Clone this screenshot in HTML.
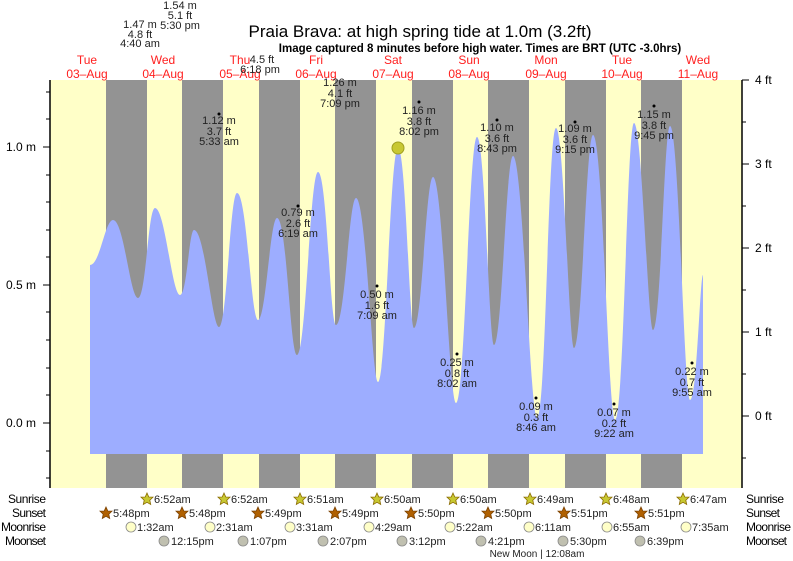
<!DOCTYPE html><html><head><meta charset="utf-8"><style>body{margin:0;background:#fff}svg{display:block;font-family:"Liberation Sans",sans-serif}</style></head><body>
<svg width="793" height="561" viewBox="0 0 793 561">
<rect x="50" y="80" width="692" height="408" fill="#ffffc8"/>
<g fill="#939393">
<rect x="106" y="80" width="41" height="408"/><rect x="182" y="80" width="41" height="408"/><rect x="259" y="80" width="41" height="408"/><rect x="335" y="80" width="41" height="408"/><rect x="412" y="80" width="41" height="408"/><rect x="488" y="80" width="41" height="408"/><rect x="565" y="80" width="41" height="408"/><rect x="641" y="80" width="41" height="408"/>
</g>
<path fill="#9dadff" d="M90,454 L90,265 C100,265 105,220 113,220 C124,220 130,298 138,298 C146,298 148,208 155,208 C165,208 172,295 180,295 C187,295 189,230 194,230 C205,230 212,327 219,327 C227,327 230,193 237,193 C247,193 251,320 258,320 C266,320 270,218 277,218 C287,218 290,355 297,355 C306,355 310,172 318,172 C327,172 330,325 336,325 C345,325 349,198 356,198 C366,198 372,382 378,382 C386,382 390,148 398,148 C406,148 409,328 414,328 C422,328 426,177 433,177 C443,177 449,403 456,403 C465,403 469,137 477,137 C485,137 489,345 494,345 C502,345 506,156 513,156 C523,156 530,418 537,418 C546,418 548,128 556,128 C564,128 569,348 574,348 C582,348 586,135 593,135 C603,135 608,420 615,420 C624,420 627,123 634,123 C642,123 648,330 653,330 C661,330 664,126 670,126 C679,126 684,400 690,400 C697,400 700,275 703,275 L703,454 Z"/>
<circle cx="398" cy="148" r="6" fill="#c8c832" stroke="#a0a020"/>
<g stroke="#000" stroke-width="1.5"><line x1="50" y1="80" x2="50" y2="488"/><line x1="742" y1="80" x2="742" y2="488"/></g>
<g stroke="#000" stroke-width="1"><line x1="43" y1="147" x2="50" y2="147"/><line x1="43" y1="285" x2="50" y2="285"/><line x1="43" y1="423" x2="50" y2="423"/>
<line x1="46" y1="119" x2="50" y2="119"/><line x1="46" y1="175" x2="50" y2="175"/><line x1="46" y1="202" x2="50" y2="202"/><line x1="46" y1="230" x2="50" y2="230"/><line x1="46" y1="257" x2="50" y2="257"/><line x1="46" y1="312" x2="50" y2="312"/><line x1="46" y1="340" x2="50" y2="340"/><line x1="46" y1="368" x2="50" y2="368"/><line x1="46" y1="395" x2="50" y2="395"/><line x1="46" y1="451" x2="50" y2="451"/><line x1="46" y1="478" x2="50" y2="478"/><line x1="46" y1="92" x2="50" y2="92"/>
<line x1="742" y1="80" x2="749" y2="80"/><line x1="742" y1="164" x2="749" y2="164"/><line x1="742" y1="248" x2="749" y2="248"/><line x1="742" y1="332" x2="749" y2="332"/><line x1="742" y1="416" x2="749" y2="416"/>
<line x1="742" y1="122" x2="746" y2="122"/><line x1="742" y1="206" x2="746" y2="206"/><line x1="742" y1="290" x2="746" y2="290"/><line x1="742" y1="374" x2="746" y2="374"/><line x1="742" y1="458" x2="746" y2="458"/></g>
<g font-size="12" fill="#000" text-anchor="end"><text x="36" y="151">1.0 m</text><text x="36" y="289">0.5 m</text><text x="36" y="427">0.0 m</text></g>
<g font-size="12" fill="#000"><text x="755" y="84">4 ft</text><text x="755" y="168">3 ft</text><text x="755" y="252">2 ft</text><text x="755" y="336">1 ft</text><text x="755" y="420">0 ft</text></g>
<text x="420" y="37" font-size="17" text-anchor="middle">Praia Brava: at high  spring tide at 1.0m (3.2ft)</text>
<text x="480" y="52" font-size="11.5" font-weight="bold" text-anchor="middle">Image captured 8 minutes before high water. Times are BRT (UTC -3.0hrs)</text>
<g font-size="12" fill="#ff2020" text-anchor="middle">
<text x="87" y="64">Tue</text><text x="87" y="78">03–Aug</text><text x="163" y="64">Wed</text><text x="163" y="78">04–Aug</text><text x="240" y="64">Thu</text><text x="240" y="78">05–Aug</text><text x="316" y="64">Fri</text><text x="316" y="78">06–Aug</text><text x="393" y="64">Sat</text><text x="393" y="78">07–Aug</text><text x="469" y="64">Sun</text><text x="469" y="78">08–Aug</text><text x="546" y="64">Mon</text><text x="546" y="78">09–Aug</text><text x="622" y="64">Tue</text><text x="622" y="78">10–Aug</text><text x="698" y="64">Wed</text><text x="698" y="78">11–Aug</text></g>
<g font-size="11" fill="#222" text-anchor="middle">
<text x="140" y="28">1.47 m</text><text x="140" y="38">4.8 ft</text><text x="140" y="47">4:40 am</text>
<text x="180" y="9">1.54 m</text><text x="180" y="19">5.1 ft</text><text x="180" y="29">5:30 pm</text>
<text x="262" y="63">4.5 ft</text><text x="260" y="73">6:18 pm</text>
<text x="340" y="86">1.26 m</text><text x="340" y="97">4.1 ft</text><text x="340" y="107">7:09 pm</text>
<text x="219" y="124">1.12 m</text><text x="219" y="135">3.7 ft</text><text x="219" y="145">5:33 am</text>
<text x="298" y="216">0.79 m</text><text x="298" y="227">2.6 ft</text><text x="298" y="237">6:19 am</text>
<text x="377" y="298">0.50 m</text><text x="377" y="309">1.6 ft</text><text x="377" y="319">7:09 am</text>
<text x="419" y="114">1.16 m</text><text x="419" y="125">3.8 ft</text><text x="419" y="135">8:02 pm</text>
<text x="457" y="366">0.25 m</text><text x="457" y="377">0.8 ft</text><text x="457" y="387">8:02 am</text>
<text x="497" y="131">1.10 m</text><text x="497" y="142">3.6 ft</text><text x="497" y="152">8:43 pm</text>
<text x="536" y="410">0.09 m</text><text x="536" y="421">0.3 ft</text><text x="536" y="431">8:46 am</text>
<text x="575" y="132">1.09 m</text><text x="575" y="143">3.6 ft</text><text x="575" y="153">9:15 pm</text>
<text x="614" y="416">0.07 m</text><text x="614" y="427">0.2 ft</text><text x="614" y="437">9:22 am</text>
<text x="654" y="118">1.15 m</text><text x="654" y="129">3.8 ft</text><text x="654" y="139">9:45 pm</text>
<text x="692" y="375">0.22 m</text><text x="692" y="386">0.7 ft</text><text x="692" y="396">9:55 am</text></g>
<g fill="#000"><circle cx="219" cy="114" r="1.5"/><circle cx="298" cy="206" r="1.5"/><circle cx="377" cy="286" r="1.5"/><circle cx="419" cy="102" r="1.5"/><circle cx="457" cy="354" r="1.5"/><circle cx="497" cy="120" r="1.5"/><circle cx="536" cy="398" r="1.5"/><circle cx="575" cy="122" r="1.5"/><circle cx="614" cy="404" r="1.5"/><circle cx="654" cy="106" r="1.5"/><circle cx="692" cy="363" r="1.5"/></g>
<g font-size="12" fill="#000"><text x="46" y="503" text-anchor="end" textLength="38">Sunrise</text><text x="46" y="517" text-anchor="end" textLength="34">Sunset</text><text x="46" y="531" text-anchor="end" textLength="45">Moonrise</text><text x="46" y="545" text-anchor="end" textLength="41">Moonset</text>
<text x="746" y="503" textLength="38">Sunrise</text><text x="746" y="517" textLength="34">Sunset</text><text x="746" y="531" textLength="45">Moonrise</text><text x="746" y="545" textLength="41">Moonset</text></g>
<defs><polygon id="st" points="0,-6 1.8,-2 6,-1.9 2.8,1.2 3.7,5.5 0,3.3 -3.7,5.5 -2.8,1.2 -6,-1.9 -1.8,-2"/></defs>
<g font-size="11" fill="#222">
<g fill="#c8c832" stroke="#8a6a00" stroke-width="0.8"><use href="#st" x="147" y="499"/><use href="#st" x="224" y="499"/><use href="#st" x="300" y="499"/><use href="#st" x="377" y="499"/><use href="#st" x="453" y="499"/><use href="#st" x="530" y="499"/><use href="#st" x="606" y="499"/><use href="#st" x="683" y="499"/></g>
<text x="154" y="503">6:52am</text><text x="231" y="503">6:52am</text><text x="307" y="503">6:51am</text><text x="384" y="503">6:50am</text><text x="460" y="503">6:50am</text><text x="537" y="503">6:49am</text><text x="613" y="503">6:48am</text><text x="690" y="503">6:47am</text>
<g fill="#b06000" stroke="#7a4000" stroke-width="0.8"><use href="#st" x="106" y="513"/><use href="#st" x="182" y="513"/><use href="#st" x="258" y="513"/><use href="#st" x="335" y="513"/><use href="#st" x="411" y="513"/><use href="#st" x="488" y="513"/><use href="#st" x="564" y="513"/><use href="#st" x="641" y="513"/></g>
<text x="113" y="517">5:48pm</text><text x="189" y="517">5:48pm</text><text x="265" y="517">5:49pm</text><text x="342" y="517">5:49pm</text><text x="418" y="517">5:50pm</text><text x="495" y="517">5:50pm</text><text x="571" y="517">5:51pm</text><text x="648" y="517">5:51pm</text>
<g fill="#ffffc8" stroke="#888" stroke-width="0.8"><circle cx="131" cy="527" r="5"/><circle cx="210" cy="527" r="5"/><circle cx="290" cy="527" r="5"/><circle cx="369" cy="527" r="5"/><circle cx="450" cy="527" r="5"/><circle cx="529" cy="527" r="5"/><circle cx="607" cy="527" r="5"/><circle cx="686" cy="527" r="5"/></g>
<text x="137" y="531">1:32am</text><text x="216" y="531">2:31am</text><text x="296" y="531">3:31am</text><text x="375" y="531">4:29am</text><text x="456" y="531">5:22am</text><text x="535" y="531">6:11am</text><text x="613" y="531">6:55am</text><text x="692" y="531">7:35am</text>
<g fill="#c0c0b0" stroke="#888" stroke-width="0.8"><circle cx="164" cy="541" r="5"/><circle cx="243" cy="541" r="5"/><circle cx="323" cy="541" r="5"/><circle cx="402" cy="541" r="5"/><circle cx="481" cy="541" r="5"/><circle cx="563" cy="541" r="5"/><circle cx="640" cy="541" r="5"/></g>
<text x="171" y="545">12:15pm</text><text x="250" y="545">1:07pm</text><text x="330" y="545">2:07pm</text><text x="409" y="545">3:12pm</text><text x="488" y="545">4:21pm</text><text x="570" y="545">5:30pm</text><text x="647" y="545">6:39pm</text>
<text x="537" y="557" font-size="10" text-anchor="middle">New Moon | 12:08am</text></g>
</svg></body></html>
